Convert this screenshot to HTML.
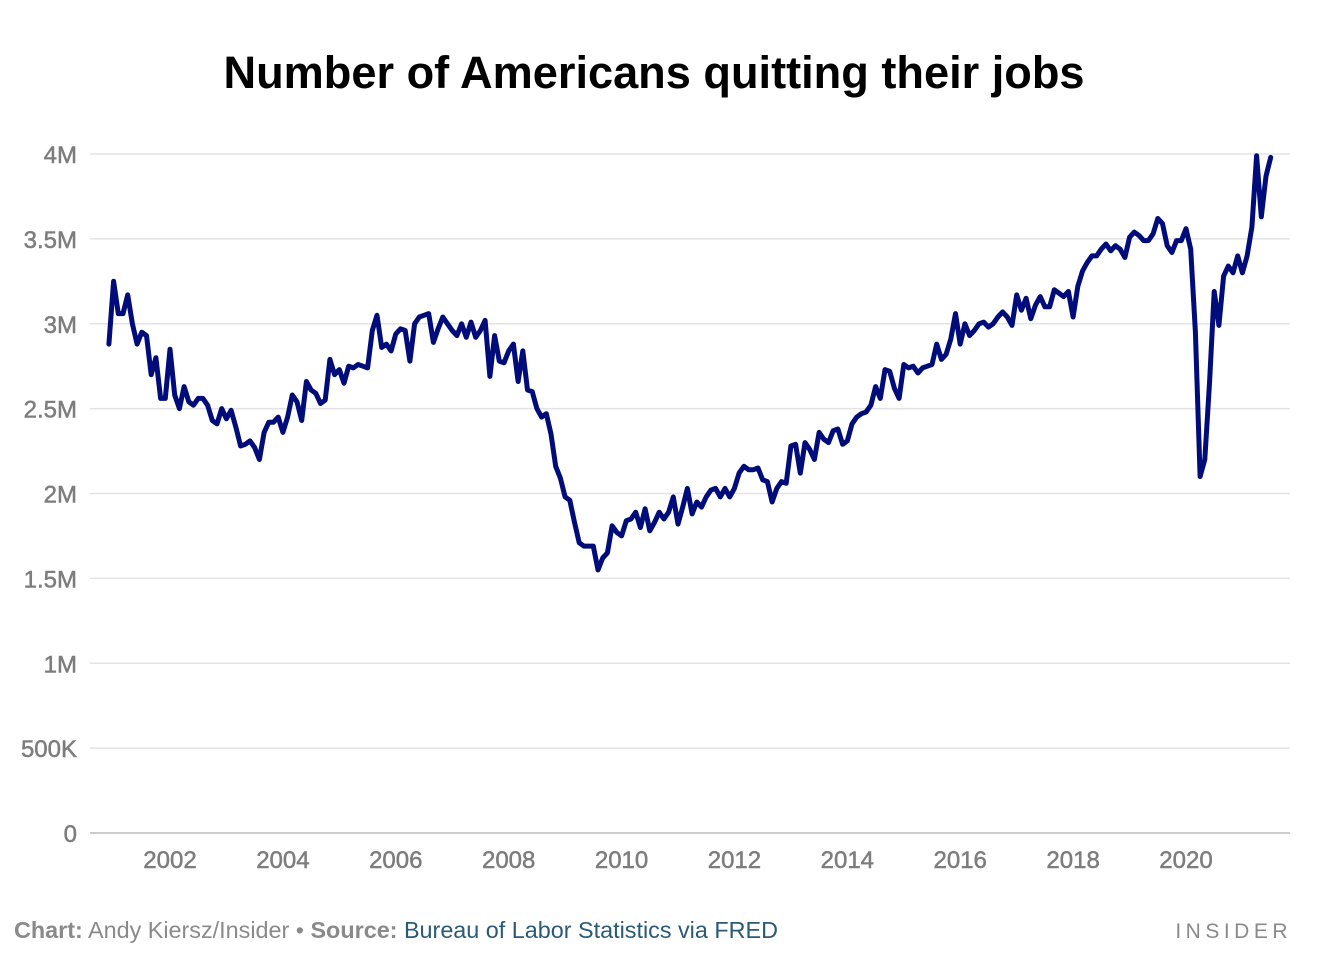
<!DOCTYPE html>
<html><head><meta charset="utf-8">
<style>
body{margin:0;background:#fff;font-family:"Liberation Sans",sans-serif;}
#wrap{position:relative;width:1338px;height:978px;overflow:hidden;}
</style></head>
<body>
<div id="wrap">
<svg id="chart" width="1338" height="978"></svg>
</div>
<script>
const yTicks=[0,0.5,1,1.5,2,2.5,3,3.5,4];
const yTickLabels=["0","500K","1M","1.5M","2M","2.5M","3M","3.5M","4M"];
const xTicks=[2002,2004,2006,2008,2010,2012,2014,2016,2018,2020];
const startYear=2000, startMonth=11; // Dec 2000
const quits=[2.88,
3.25,3.06,3.06,3.17,3.0,2.88,2.95,2.93,2.70,2.80,2.56,2.56,
2.85,2.58,2.50,2.63,2.54,2.52,2.56,2.56,2.52,2.43,2.41,2.50,
2.44,2.49,2.39,2.28,2.29,2.31,2.27,2.20,2.36,2.42,2.42,2.45,
2.36,2.45,2.58,2.54,2.43,2.66,2.61,2.59,2.53,2.55,2.79,2.70,
2.73,2.65,2.75,2.74,2.76,2.75,2.74,2.96,3.05,2.86,2.88,2.84,
2.94,2.97,2.96,2.78,3.00,3.04,3.05,3.06,2.89,2.97,3.04,3.00,
2.96,2.93,3.00,2.92,3.01,2.92,2.96,3.02,2.69,2.93,2.78,2.77,
2.84,2.88,2.66,2.84,2.61,2.60,2.50,2.45,2.47,2.35,2.16,2.09,
1.98,1.96,1.83,1.71,1.69,1.69,1.69,1.55,1.62,1.65,1.81,1.77,
1.75,1.84,1.85,1.89,1.80,1.91,1.78,1.83,1.89,1.85,1.89,1.98,
1.82,1.92,2.03,1.88,1.95,1.92,1.98,2.02,2.03,1.98,2.03,1.98,
2.03,2.12,2.16,2.14,2.14,2.15,2.08,2.07,1.95,2.03,2.07,2.06,
2.28,2.29,2.12,2.30,2.26,2.20,2.36,2.32,2.30,2.37,2.38,2.29,
2.31,2.41,2.45,2.47,2.48,2.52,2.63,2.56,2.73,2.72,2.62,2.56,
2.76,2.74,2.75,2.71,2.74,2.75,2.76,2.88,2.79,2.82,2.91,3.06,
2.88,3.00,2.93,2.96,3.00,3.01,2.98,3.00,3.04,3.07,3.04,2.99,
3.17,3.08,3.15,3.03,3.11,3.16,3.10,3.10,3.20,3.18,3.16,3.19,
3.04,3.22,3.31,3.36,3.40,3.40,3.44,3.47,3.43,3.46,3.44,3.39,
3.51,3.54,3.52,3.49,3.49,3.53,3.62,3.59,3.46,3.42,3.49,3.49,
3.56,3.44,2.95,2.10,2.20,2.65,3.19,2.99,3.28,3.34,3.30,3.40,
3.30,3.40,3.57,3.99,3.63,3.87,3.98];

const NS="http://www.w3.org/2000/svg";
const svg=document.getElementById('chart');
function X(t){return 170+(t-2002)*(1186-170)/18;}
function Y(v){return 833-v*(833-154)/4;}
function mk(tag,attrs,text){const e=document.createElementNS(NS,tag);for(const k in attrs)e.setAttribute(k,attrs[k]);if(text!==undefined)e.textContent=text;svg.appendChild(e);return e;}

let t=mk('text',{x:654,y:88,'text-anchor':'middle','font-size':45,'font-weight':'bold',fill:'#000',textLength:861,lengthAdjust:'spacingAndGlyphs'},'Number of Americans quitting their jobs');



yTicks.forEach((v,i)=>{
  const l=mk('line',{x1:90,x2:1290,y1:Y(v),y2:Y(v),stroke:v===0?'#bbb':'#e3e3e3','stroke-width':1.5});
  
  
  const tx=mk('text',{x:77,y:Y(v)+9,'text-anchor':'end','font-size':24,fill:'#7d7d7d',stroke:'#7d7d7d','stroke-width':0.5},yTickLabels[i]);
  
  
});
xTicks.forEach(y=>{
  const tx=mk('text',{x:X(y),y:868,'text-anchor':'middle','font-size':24,fill:'#7d7d7d',stroke:'#7d7d7d','stroke-width':0.5},String(y));
  
  
});
const pts=quits.map((v,i)=>{const tt=startYear+(startMonth+i)/12;return X(tt).toFixed(1)+','+Y(v).toFixed(1);});
const p=mk('polyline',{points:pts.join(' '),fill:'none',stroke:'#000c7a','stroke-width':5,'stroke-linejoin':'round','stroke-linecap':'round'});



const f=mk('text',{x:14,y:938,'font-size':23,fill:'#8a8a8a',textLength:764,lengthAdjust:'spacingAndGlyphs'});


f.innerHTML='<tspan font-weight="bold">Chart:</tspan> Andy Kiersz/Insider • <tspan font-weight="bold">Source:</tspan> <tspan fill="#2a5a78">Bureau of Labor Statistics via FRED</tspan>';
const ins=mk('text',{x:1292,y:938,'text-anchor':'end','font-size':21,fill:'#8a8a8a','letter-spacing':'4.5'},'INSIDER');


</script>
</body></html>
